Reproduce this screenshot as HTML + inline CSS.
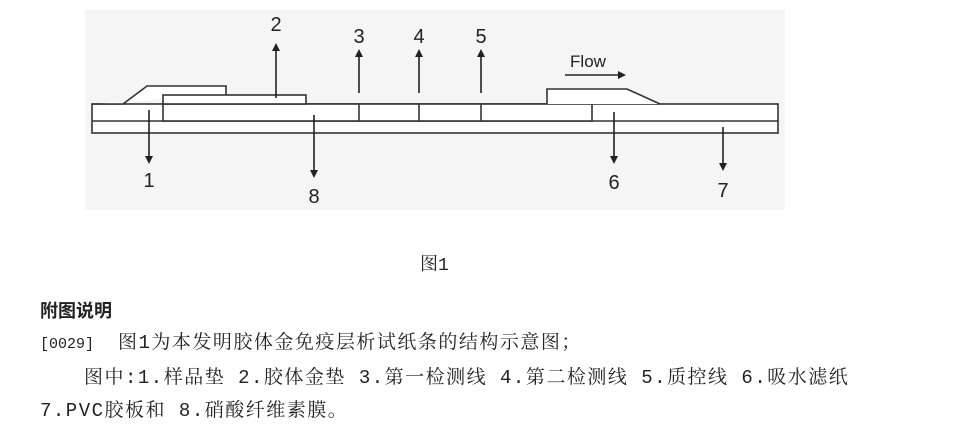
<!DOCTYPE html>
<html><head><meta charset="utf-8"><style>
body{margin:0;width:953px;height:443px;background:#fff;overflow:hidden;position:relative;font-family:"Liberation Mono","Noto Serif CJK SC",serif;color:#222}
.t{position:absolute;white-space:nowrap;font-size:19px;letter-spacing:1.5px;line-height:24px}
</style></head><body>
<svg width="953" height="240" style="position:absolute;left:0;top:0">
<defs><marker id="a" markerWidth="8" markerHeight="8" refX="4" refY="4" orient="auto" markerUnits="userSpaceOnUse" viewBox="0 0 8 8"><path d="M0,0 L8,4 L0,8 z" fill="#222"/></marker></defs>
<rect x="85" y="10" width="700" height="200" fill="#f5f5f5"/>
<g fill="none" stroke="#333" stroke-width="1.6">
<rect x="92" y="104" width="686" height="29" fill="#fff"/>
<line x1="92" y1="121" x2="778" y2="121"/>
<path d="M92,104 L123,104 L147,86 L226,86 L226,95" fill="#fff"/>
<rect x="163" y="104" width="429" height="17" fill="#fff"/>
<rect x="163" y="95" width="143" height="9" fill="#fff"/>
<line x1="359" y1="104" x2="359" y2="121"/>
<line x1="419" y1="104" x2="419" y2="121"/>
<line x1="481" y1="104" x2="481" y2="121"/>
<path d="M547,104 L547,89 L627,89 L660,104" fill="#fff"/>
</g>
<g stroke="#222" stroke-width="1.6" fill="none">
<line x1="276" y1="98" x2="276" y2="47" marker-end="url(#a)"/>
<line x1="359" y1="93" x2="359" y2="53" marker-end="url(#a)"/>
<line x1="419" y1="93" x2="419" y2="53" marker-end="url(#a)"/>
<line x1="481" y1="93" x2="481" y2="53" marker-end="url(#a)"/>
<line x1="565" y1="75" x2="622" y2="75" marker-end="url(#a)"/>
<line x1="149" y1="110" x2="149" y2="160" marker-end="url(#a)"/>
<line x1="314" y1="115" x2="314" y2="174" marker-end="url(#a)"/>
<line x1="614" y1="112" x2="614" y2="160" marker-end="url(#a)"/>
<line x1="723" y1="127" x2="723" y2="167" marker-end="url(#a)"/>
</g>
<g font-family="Liberation Sans,sans-serif" font-size="20" fill="#222" text-anchor="middle">
<text x="276" y="31">2</text><text x="359" y="43">3</text><text x="419" y="43">4</text><text x="481" y="43">5</text>
<text x="149" y="187">1</text><text x="314" y="203">8</text><text x="614" y="189">6</text><text x="723" y="197">7</text>
<text x="588" y="67" font-size="17">Flow</text>
</g>
</svg>
<div class="t" style="left:420px;top:254px;font-size:18px;letter-spacing:0">图1</div>
<div class="t" style="left:40px;top:299px;font-weight:bold;font-size:18px;letter-spacing:0;font-family:'Liberation Sans','Noto Sans CJK SC',sans-serif">附图说明</div>
<div class="t" style="left:40px;top:331px"><span style="font-size:15px;letter-spacing:0">[0029]</span></div>
<div class="t" style="left:118px;top:331px">图1为本发明胶体金免疫层析试纸条的结构示意图；</div>
<div class="t" style="left:84px;top:366px">图中:1.样品垫 2.胶体金垫 3.第一检测线 4.第二检测线 5.质控线 6.吸水滤纸</div>
<div class="t" style="left:40px;top:399px">7.PVC胶板和 8.硝酸纤维素膜。</div>
</body></html>
